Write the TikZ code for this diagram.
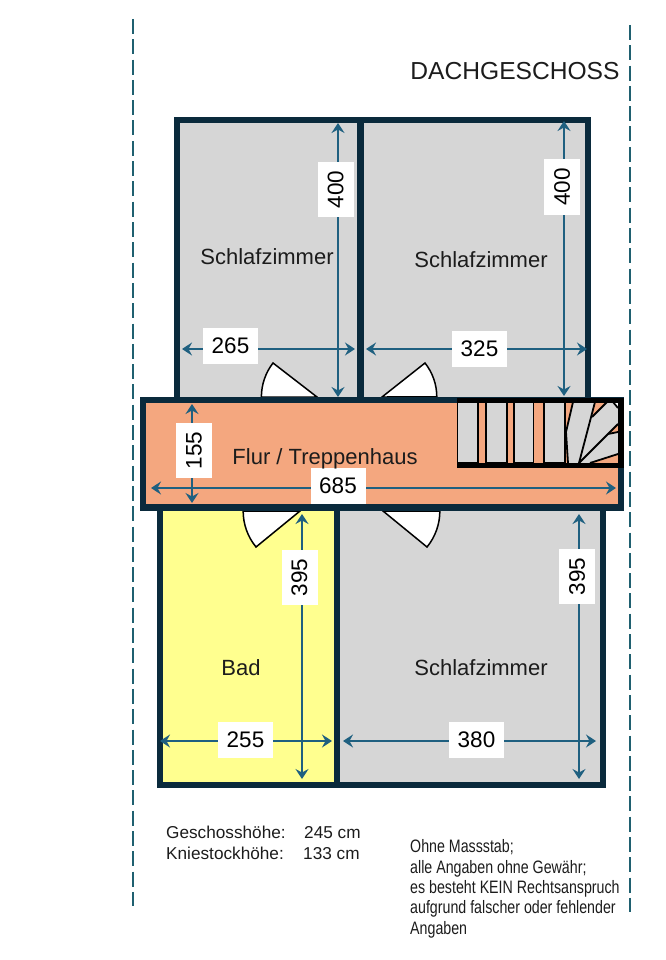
\documentclass[tikz,border=0pt]{standalone}
\usepackage{fontspec}
\setmainfont{Liberation Sans}
\newfontfamily\narrowfont[FakeStretch=0.79]{Liberation Sans}
\usetikzlibrary{arrows.meta}
\newcommand\pxfont[1]{\fontsize{#1}{#1}\selectfont}
\definecolor{wallc}{HTML}{0A2A3C}
\definecolor{roomgrey}{HTML}{D6D6D6}
\definecolor{bathyellow}{HTML}{FFFF8F}
\definecolor{flurorange}{HTML}{F4A77F}
\definecolor{dimc}{HTML}{1F6080}
\definecolor{dashc}{HTML}{1F6070}
\definecolor{inkc}{HTML}{1C1C1C}
\tikzset{
  wallroom/.style={draw=wallc,line width=6pt,miter limit=10},
  border/.style={draw=dashc,line width=2pt,dash pattern=on 15pt off 5.3pt},
  dimline/.style={draw=dimc,line width=1.7pt,{Stealth[length=10pt,width=13pt,inset=3.5pt]}-{Stealth[length=10pt,width=13pt,inset=3.5pt]}},
  dimbox/.style={fill=white,inner sep=0pt,text=black,font=\pxfont{22.5},minimum width=55pt,minimum height=36pt},
  dimboxv/.style={dimbox,rotate=90},
  roomlabel/.style={anchor=base,text=inkc,font=\pxfont{22},inner sep=0pt},
  doorleaf/.style={draw=black,fill=white,line width=1.5pt,line join=miter},
  tread/.style={draw=black,fill=roomgrey,line width=1.8pt},
  winder/.style={draw=black,line width=1.8pt},
  sliver/.style={fill=flurorange,draw=none},
  infotext/.style={anchor=base west,text=inkc,font=\pxfont{17.2},inner sep=0pt},
  notetext/.style={anchor=base west,text=inkc,font=\narrowfont\pxfont{18},inner sep=0pt},
}
\begin{document}
\begin{tikzpicture}[x=1pt,y=-1pt]
\useasboundingbox (0,0) rectangle (665,960);
% boundary lines
\coordinate (bl1) at (133,19); \coordinate (bl2) at (133,906);
\coordinate (br1) at (630,25); \coordinate (br2) at (630,912);
\draw[border] (bl1) -- (bl2);
\draw[border] (br1) -- (br2);
% rooms
\path[fill=roomgrey] (177,120) rectangle (588,400);
\path[fill=bathyellow] (160,510) rectangle (337,785);
\path[fill=roomgrey] (337,510) rectangle (603,785);
\path[fill=flurorange] (143,400) rectangle (621,507.5);
% doors
\draw[doorleaf] (317,397) -- (273,363) arc[start angle=217.7,end angle=180,radius=55.6] -- cycle;
\draw[doorleaf] (382,397) -- (425,363) arc[start angle=-38.3,end angle=0,radius=54.8] -- cycle;
\draw[doorleaf] (300,511) -- (256,547) arc[start angle=140.7,end angle=180,radius=56.8] -- cycle;
\draw[doorleaf] (383,511) -- (427,547) arc[start angle=39.3,end angle=0,radius=56.8] -- cycle;
% walls
\draw[wallroom] (177,400) -- (177,120) -- (588,120) -- (588,400);
\draw[wallroom,line width=7pt] (360.5,120) -- (360.5,400);
\draw[wallroom] (160,510) -- (160,785) -- (603,785) -- (603,510);
\draw[wallroom] (337,510) -- (337,785);
\draw[wallroom,line width=6.5pt] (143,400) rectangle (621,507.5);
% stairs
\draw[tread] (457.5,401) rectangle (478,463);
\draw[tread] (486,401) rectangle (507,463);
\draw[tread] (514,401) rectangle (533.5,463);
\draw[tread] (544,401) rectangle (565,463);
\path[fill=roomgrey] (573,402) -- (566,432) -- (568,463) -- (618,463) -- (618,402) -- cycle;
\path[sliver] (595,402) -- (607,402) -- (592,417) -- cycle;
\path[sliver] (608,434) -- (618,424) -- (618,432) -- cycle;
\path[sliver] (590,463) -- (618,454) -- (618,463) -- cycle;
\path[fill=white] (613,402) -- (618,402) -- (618,408) -- cycle;
\draw[winder] (568,463) -- (566,432) -- (573,402);
\coordinate (hub) at (579,463);
\draw[winder] (hub) -- (595,402);
\draw[winder] (592,417) -- (607,402);
\draw[winder] (hub) -- (618,424);
\draw[winder] (608,434) -- (618,432);
\draw[winder] (590,463) -- (618,454);
\draw[winder] (613,402) -- (618,408);
\fill[black] (457,398) rectangle (624,403);
\fill[black] (457,462.5) rectangle (622,468);
\fill[black] (618,398) rectangle (624,468);
% dimensions
\coordinate (a1) at (338,123); \coordinate (a2) at (338,397);
\coordinate (b1) at (564,121); \coordinate (b2) at (564,396);
\coordinate (c1) at (182,349); \coordinate (c2) at (355,349);
\coordinate (d1) at (366,349); \coordinate (d2) at (587,349);
\coordinate (e1) at (192,404); \coordinate (e2) at (192,503);
\coordinate (f1) at (151,488); \coordinate (f2) at (616,488);
\coordinate (g1) at (302,514); \coordinate (g2) at (302,779);
\coordinate (h1) at (579,514); \coordinate (h2) at (579,779);
\coordinate (i1) at (160,741); \coordinate (i2) at (332,741);
\coordinate (j1) at (343,741); \coordinate (j2) at (596,741);
\foreach \p/\q in {a1/a2,b1/b2,c1/c2,d1/d2,e1/e2,f1/f2,g1/g2,h1/h2,i1/i2,j1/j2}
  \draw[dimline] (\p) -- (\q);
\node[dimboxv] (n400a) at (335.5,189.5) {400};
\node[dimboxv] (n400b) at (562,187) {400};
\node[dimbox] (n265) at (230.5,346) {265};
\node[dimbox] (n325) at (479.5,349) {325};
\node[dimboxv] (n155) at (194,450.5) {155};
\node[dimbox] (n685) at (338,485.5) {685};
\node[dimboxv] (n395a) at (299.5,577.5) {395};
\node[dimboxv] (n395b) at (577,576.5) {395};
\node[dimbox] (n255) at (245.5,740) {255};
\node[dimbox] (n380) at (476.5,740) {380};
% room labels
\node[roomlabel] (r1) at (267,264) {Schlafzimmer};
\node[roomlabel] (r2) at (481,267) {Schlafzimmer};
\node[roomlabel] (r3) at (325,464) {Flur / Treppenhaus};
\node[roomlabel] (r4) at (241,675) {Bad};
\node[roomlabel] (r5) at (481,675) {Schlafzimmer};
\node[anchor=base,text=inkc,font=\pxfont{24.6},inner sep=0pt] (title) at (515,80) {DACHGESCHOSS};
% footer
\node[infotext] (t1) at (166,838) {Geschosshöhe:};
\node[infotext] (t2) at (304,838) {245 cm};
\node[infotext] (t3) at (166,859) {Kniestockhöhe:};
\node[infotext] (t4) at (303,859) {133 cm};
\node[notetext] (m1) at (410,852) {Ohne Massstab;};
\node[notetext] (m2) at (410,873) {alle Angaben ohne Gewähr;};
\node[notetext] (m3) at (410,893) {es besteht KEIN Rechtsanspruch};
\node[notetext] (m4) at (410,913) {aufgrund falscher oder fehlender};
\node[notetext] (m5) at (410,934) {Angaben};
\end{tikzpicture}
\end{document}
